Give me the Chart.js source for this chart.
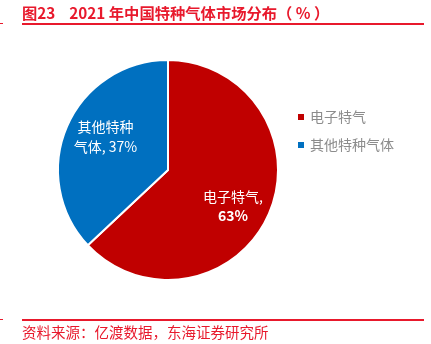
<!DOCTYPE html>
<html>
<head>
<meta charset="utf-8">
<script src="https://cdn.jsdelivr.net/npm/chart.js@4/dist/chart.umd.min.js"></script>
<style>
  html, body { margin: 0; padding: 0; background: #fff; }
  #wrap { position: relative; width: 431px; height: 344px; overflow: hidden; }
  #title { position: absolute; left: 22px; top: 1px; font: bold 15.3px "Noto Sans CJK SC", sans-serif; color: #E8192C; white-space: pre; }
  #source { position: absolute; left: 22px; top: 321px; font: 14.5px "Noto Sans CJK SC", sans-serif; color: #E8192C; white-space: nowrap; }
  .line { position: absolute; background: #E8192C; }
  canvas { position: absolute; left: 0; top: 0; }
</style>
</head>
<body>
<div id="wrap">
  <canvas id="myChart" width="431" height="344"></canvas>
  <div id="title">图23    2021 年中国特种气体市场分布（ % ）</div>
  <div class="line" style="left:22px; top:23px; width:402px; height:2px;"></div>
  <div class="line" style="left:0px; top:23px; width:3px; height:1px;"></div>
  <div class="line" style="left:22px; top:319px; width:402px; height:1.5px;"></div>
  <div class="line" style="left:0px; top:319px; width:3px; height:1px;"></div>
  <div id="source">资料来源：亿渡数据，东海证券研究所</div>
</div>
<script>
const labels = ['电子特气', '其他特种气体'];
const values = [63, 37];
const sliceLabels = [['电子特气,', '63%'], ['其他特种', '气体, 37%']];
const colors = ['rgb(192, 0, 0)', 'rgb(0, 112, 192)'];

// slice labels and legend drawn after the pie
const annotate = {
    id: 'annotate',
    afterDraw(chart) {
        const ctx = chart.ctx;
        const meta = chart.getDatasetMeta(0);
        ctx.save();
        ctx.textAlign = 'center';
        ctx.textBaseline = 'middle';
        ctx.fillStyle = '#fff';
        meta.data.forEach((arc, i) => {
            const p = arc.tooltipPosition();
            const lines = sliceLabels[i];
            const offs = i === 0 ? [-9.5, 9.5] : [-10, 10];
            const shift = i === 0 ? [14.5, 14.7] : [-12, -11];
            lines.forEach((t, j) => {
                ctx.font = (j === 1 && i === 0 ? 'bold ' : '') + '14px "Noto Sans CJK SC", sans-serif';
                ctx.fillText(t, p.x + shift[0], p.y + shift[1] + offs[j]);
            });
        });
        // legend
        ctx.textAlign = 'left';
        ctx.font = '14px "Noto Sans CJK SC", sans-serif';
        labels.forEach((l, i) => {
            const y = 117 + i * 28;
            ctx.fillStyle = colors[i];
            ctx.fillRect(298, y - 3, 6, 6);
            ctx.fillStyle = '#8c8c8c';
            ctx.fillText(l, 310, y);
        });
        ctx.restore();
    }
};

const config = {
    type: 'pie',
    data: {
        labels: labels,
        datasets: [{
            data: values,
            backgroundColor: colors,
            borderColor: '#fff',
            borderWidth: 2
        }]
    },
    options: {
        responsive: false,
        animation: false,
        layout: {
            padding: { left: 57, top: 59, right: 152, bottom: 63 }
        },
        plugins: {
            legend: { display: false },
            tooltip: { enabled: false }
        }
    },
    plugins: [annotate]
};
var myChart = new Chart(document.getElementById('myChart'), config);
</script>
</body>
</html>
